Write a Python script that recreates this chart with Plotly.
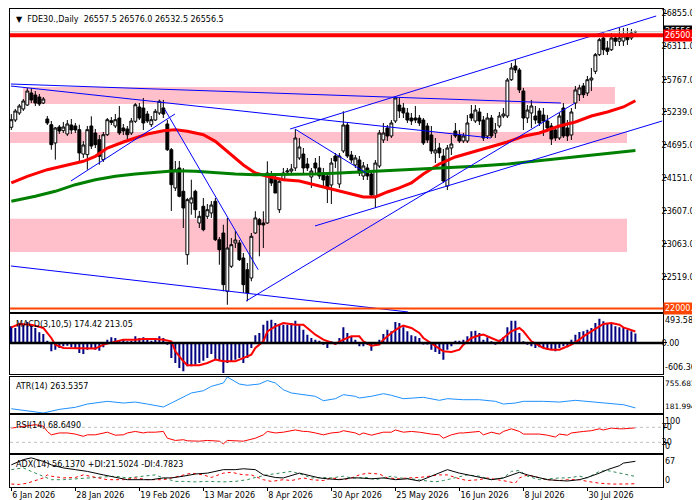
import plotly.graph_objects as go

FONT = "DejaVu Sans"

# ---- price data (daily candles, bar index 0..156) ----
tick_bars = [0, 16, 32, 48, 64, 80, 96, 112, 128, 144]
tick_dates = ["6 Jan 2026", "28 Jan 2026", "19 Feb 2026", "13 Mar 2026", "8 Apr 2026",
              "30 Apr 2026", "25 May 2026", "16 Jun 2026", "8 Jul 2026", "30 Jul 2026"]

opens = [24983, 25103, 25219, 25285, 25350, 25548, 25515, 25482, 25383, 25120,
         25026, 24725, 24988, 24927, 24873, 25021, 25005, 24944, 24543, 24532,
         25005, 24889, 24779, 24450, 24861, 25092, 25005, 25136, 24972, 24955,
         24889, 25082, 25317, 25301, 25202, 25026, 25103, 25219, 25301, 25038,
         24614, 23984, 24313, 23929, 22885, 23736, 23929, 23407, 23682, 23517,
         23572, 23764, 23132, 23242, 22282, 22694, 23078, 23078, 22831, 22638,
         22501, 23242, 23461, 23407, 23407, 24176, 24120, 23626, 24120, 24247,
         24263, 24313, 24478, 24543, 24379, 24165, 24395, 24313, 24230, 24181,
         24033, 24510, 24049, 24593, 25021, 24527, 24362, 24445, 24181, 24313,
         24214, 23835, 24346, 24774, 24972, 24840, 25087, 25350, 25301, 25219,
         25136, 25136, 25136, 25103, 25005, 24856, 24560, 24642, 24510, 24016,
         24642, 24922, 24856, 24758, 24758, 25202, 25087, 25235, 25103, 24840,
         25136, 24889, 25005, 25169, 25169, 25767, 25993, 25927, 25581, 25136,
         25219, 25169, 25252, 25186, 25087, 25005, 24939, 24807, 25301, 24972,
         24856, 25383, 25520, 25664, 25548, 25762, 25905, 26179, 26454, 26289,
         26261, 26454, 26400, 26404, 26503, 26454, 26557.5]
highs = [25202, 25285, 25367, 25449, 25630, 25630, 25581, 25532, 25482, 25169,
         25087, 24988, 25021, 25070, 25103, 25120, 25054, 25026, 24758, 25005,
         25164, 24955, 24856, 24906, 25136, 25153, 25202, 25334, 25038, 25005,
         25136, 25383, 25383, 25466, 25252, 25169, 25285, 25438, 25433, 25103,
         24642, 24428, 24428, 24313, 23819, 24120, 23955, 23605, 23819, 23720,
         23769, 23819, 23176, 23379, 23490, 23160, 23275, 23127, 22913, 22748,
         23242, 23600, 23490, 23600, 24423, 24263, 24181, 24148, 24313, 24313,
         24379, 24955, 24807, 24642, 24478, 24313, 24478, 24510, 24313, 24230,
         24478, 24560, 24560, 25247, 25070, 24593, 24527, 24510, 24412, 24379,
         24280, 24445, 24939, 25054, 25021, 25103, 25499, 25466, 25383, 25301,
         25219, 25334, 25186, 25136, 25054, 25005, 24807, 24725, 24626, 24692,
         24856, 25054, 24939, 24889, 25186, 25350, 25350, 25301, 25169, 25219,
         25186, 25054, 25235, 25301, 25795, 26042, 26092, 25960, 25631, 25350,
         25433, 25334, 25301, 25301, 25186, 25054, 25005, 25219, 25383, 25103,
         25301, 25664, 25685, 25713, 25828, 25960, 26207, 26454, 26536, 26404,
         26536, 26520, 26619, 26619, 26619, 26602, 26576]
lows = [24939, 25070, 25186, 25252, 25334, 25383, 25334, 25334, 25367, 25021,
        24614, 24450, 24873, 24889, 24840, 24873, 24889, 24395, 24478, 24285,
        24626, 24642, 24367, 24412, 24840, 25021, 24972, 24856, 24856, 24790,
        24856, 25054, 25103, 24939, 25054, 24988, 25087, 25186, 25136, 24593,
        23605, 23934, 23830, 23325, 22720, 23544, 23490, 23325, 23270, 23473,
        23490, 23110, 22720, 22282, 22061, 22666, 22995, 22781, 22254, 22117,
        22447, 23226, 22858, 22995, 23390, 24016, 23901, 23572, 24099, 24198,
        24230, 24263, 24445, 24214, 24263, 23984, 24230, 24132, 23984, 23736,
        23720, 24313, 23984, 24560, 24478, 24395, 24313, 24181, 24115, 24115,
        23819, 23654, 24313, 24725, 24758, 24807, 25054, 25136, 25136, 25054,
        25021, 25054, 25005, 24692, 24725, 24543, 24395, 24478, 24066, 23950,
        24527, 24807, 24725, 24725, 24725, 25087, 25054, 25021, 24758, 24790,
        24807, 24807, 24972, 25136, 25136, 25746, 25877, 25548, 24939, 25054,
        24972, 25038, 25005, 24840, 24906, 24692, 24758, 24774, 24807, 24758,
        24774, 25285, 25416, 25466, 25499, 25581, 25861, 26157, 26174, 26174,
        26240, 26322, 26322, 26322, 26339, 26421, 26532.5]
closes = [25108, 25252, 25334, 25416, 25581, 25433, 25383, 25367, 25449, 25054,
          24697, 24972, 24922, 24988, 25038, 24939, 24939, 24560, 24692, 24944,
          24675, 24697, 24505, 24861, 25108, 25065, 25108, 24889, 24922, 24861,
          25087, 25355, 25136, 25054, 25087, 25108, 25247, 25411, 25202, 24614,
          24038, 24285, 23847, 23654, 23791, 23819, 23626, 23517, 23297, 23626,
          23703, 23132, 22967, 22391, 22995, 23050, 23127, 22803, 22391, 22254,
          23188, 23490, 23379, 23374, 24230, 24066, 23901, 24094, 24230, 24263,
          24296, 24807, 24659, 24313, 24313, 24263, 24313, 24181, 24115, 23967,
          24395, 24428, 24510, 25021, 24510, 24445, 24478, 24230, 24346, 24181,
          23868, 24395, 24889, 24889, 24840, 25054, 25466, 25252, 25219, 25103,
          25087, 25103, 25054, 24725, 24774, 24593, 24609, 24560, 24099, 24642,
          24708, 24840, 24758, 24840, 25054, 25136, 25268, 25087, 24807, 25136,
          24840, 24939, 25169, 25202, 25762, 25960, 25927, 25598, 25136, 25268,
          25334, 25103, 25054, 25087, 24972, 24790, 24807, 25169, 24840, 24840,
          25235, 25598, 25631, 25520, 25767, 25795, 26179, 26426, 26261, 26235,
          26454, 26400, 26454, 26487, 26426, 26536, 26556.5]

ma_fast_x = [0, 4, 9, 14, 18, 21, 24, 28, 31, 34, 38, 41, 44, 48, 51, 54, 58, 61, 64, 68,
             72, 76, 80, 84, 88, 91, 94, 97, 100, 103, 107, 111, 116, 120, 124, 128, 132,
             137, 141, 145, 149, 153, 156]
ma_fast = [24066, 24176, 24285, 24367, 24423, 24505, 24642, 24741, 24807, 24873, 24927,
           24944, 24917, 24861, 24752, 24588, 24362, 24230, 24176, 24120, 24099, 24033,
           23967, 23901, 23835, 23835, 23918, 23984, 24066, 24214, 24379, 24494, 24593,
           24670, 24741, 24835, 24889, 25005, 25070, 25169, 25235, 25318, 25421]
ma_slow_x = [0, 6, 11, 16, 21, 26, 31, 36, 41, 46, 51, 56, 61, 66, 71, 76, 82, 91, 99, 108,
             116, 124, 132, 141, 149, 156]
ma_slow = [23764, 23847, 23929, 24038, 24120, 24176, 24214, 24247, 24268, 24258, 24230,
           24214, 24203, 24203, 24214, 24214, 24230, 24258, 24285, 24313, 24340, 24379,
           24433, 24489, 24543, 24600]

# support / resistance zones: start bar, end bar, low, high
zone_x0 = [2.9, -0.5, -0.5]
zone_x1 = [150.9, 153.9, 153.9]
zone_lo = [25367, 24725, 22929]
zone_hi = [25647, 24906, 23478]

# hand drawn trend lines (bar, price) -> (bar, price)
trend_x0 = [-0.1, -0.1, 14.9, 38.4, -0.1, 58.7, 69.7, 70.9, 75.9]
trend_y0 = [25696, 25663, 24099, 25273, 22699, 22122, 24955, 24955, 23358]
trend_x1 = [137.4, 119.9, 40.9, 61.7, 99.2, 140.9, 161.2, 88.7, 162.7]
trend_y1 = [25383, 24807, 25202, 22638, 21941, 25383, 26816, 24230, 25087]

level_red = 26500.0
level_orange = 22000.0
last_price = 26556.5

# ---- indicators ----
macd_main = [310, 279, 360, 341, 391, 341, 279, 198, 167, 43,
             -155, -124, -93, -62, -50, -81, -93, -186, -205, -124,
             -105, -124, -143, -81, 62, 105, 93, 43, 62, 31,
             43, 124, 93, 105, 62, 43, 81, 124, 93, -31,
             -279, -372, -465, -527, -434, -434, -403, -372, -329, -279,
             -205, -310, -341, -558, -372, -341, -310, -279, -372, -279,
             -93, 143, 186, 341, 415, 434, 372, 341, 341, 341,
             372, 415, 341, 248, 155, 93, 62, 43, -31, -93,
             31, -19, 93, 291, 186, 124, 62, -62, -62, -31,
             -143, -31, 62, 167, 248, 217, 391, 372, 291, 217,
             143, 124, 93, -19, -25, -124, -167, -205, -310, -124,
             -62, 43, 43, 62, 124, 217, 229, 186, 62, 105,
             31, -31, 62, 105, 291, 415, 415, 186, 31, -31,
             -62, -93, -81, -93, -124, -124, -155, -93, -62, -81,
             62, 155, 205, 217, 248, 279, 372, 453, 403, 372,
             353, 310, 291, 279, 248, 217, 174.42]
sig_x = [0, 2, 5, 8, 10, 11, 13, 16, 18, 21, 23, 26, 28, 31, 33, 36, 38, 40, 41, 43,
         44, 47, 49, 51, 53, 56, 58, 60, 61, 63, 64, 66, 68, 71, 73, 74, 76, 78, 79, 81,
         83, 85, 87, 88, 90, 92, 93, 95, 97, 98, 100, 102, 103, 105, 107, 108, 110, 112,
         113, 115, 117, 118, 120, 122, 123, 125, 127, 128, 130, 132, 133, 135, 137, 138,
         140, 142, 143, 145, 147, 148, 150, 152, 153, 155, 156]
sig_v = [291, 353, 341, 279, 93, -31, -93, -93, -105, -105, -31, 31, 62, 62, 74, 74, 62,
         31, -155, -341, -415, -415, -372, -310, -341, -341, -279, -217, -93, 31, 217, 310,
         372, 341, 341, 279, 155, 62, 31, -19, 62, 124, 124, 31, -50, -31, 62, 186, 291,
         322, 279, 186, 93, 0, -93, -155, -167, -124, -31, 93, 143, 155, 93, 31, 93, 217,
         279, 217, 31, -62, -93, -124, -124, -93, -31, 62, 124, 217, 310, 353, 372, 341,
         291, 248, 213.05]

atr_x = [0, 4, 8, 12, 16, 19, 22, 24, 28, 31, 34, 38, 40, 43, 45, 48, 50, 53, 54, 57, 59,
         62, 64, 66, 68, 70, 73, 76, 78, 81, 83, 86, 87, 90, 93, 95, 98, 103, 107, 109,
         113, 117, 121, 123, 126, 128, 133, 137, 141, 145, 149, 153, 156]
atr_v = [250, 215, 182, 240, 273, 325, 357, 368, 341, 357, 325, 278, 341, 432, 501, 537,
         607, 660, 755.68, 644, 623, 644, 700, 660, 553, 501, 474, 448, 378, 410, 474, 448,
         421, 448, 490, 464, 410, 432, 384, 410, 394, 394, 368, 325, 341, 368, 368, 357,
         384, 357, 341, 314, 263.54]

rsi_x = [0, 3, 6, 8, 9, 10, 12, 14, 16, 18, 19, 21, 23, 24, 26, 28, 29, 31, 33, 34, 36,
         38, 39, 41, 43, 44, 47, 49, 52, 53, 54, 57, 58, 61, 63, 64, 66, 68, 71, 73, 74,
         76, 78, 80, 82, 83, 86, 87, 88, 90, 92, 93, 95, 96, 98, 100, 102, 103, 105, 107,
         108, 110, 112, 113, 115, 117, 118, 120, 122, 123, 125, 127, 128, 132, 134, 136,
         137, 139, 140, 142, 143, 145, 147, 148, 150, 152, 153, 156]
rsi_v = [68, 73, 77, 73, 59, 50, 55, 55, 52, 46, 50, 50, 55, 57, 49, 50, 55, 59, 55, 57,
         57, 59, 41, 35, 37, 34, 33, 35, 33, 26, 35, 35, 33, 41, 50, 59, 55, 57, 63, 59,
         59, 55, 50, 55, 57, 61, 55, 50, 55, 49, 55, 57, 57, 63, 57, 59, 57, 55, 52, 50,
         41, 50, 55, 55, 57, 59, 50, 57, 52, 59, 66, 59, 52, 52, 49, 44, 52, 49, 55, 59,
         59, 61, 66, 63, 68, 66, 66, 68.649]

adx_x = [0, 3, 5, 8, 10, 13, 16, 19, 23, 26, 29, 33, 35, 38, 40, 43, 46, 49, 53, 56, 58,
         61, 63, 66, 68, 72, 74, 77, 79, 82, 85, 87, 90, 93, 96, 99, 102, 104, 107, 109,
         112, 114, 118, 120, 123, 125, 127, 129, 132, 134, 137, 139, 142, 144, 147, 149,
         152, 153, 156]
adx_v = [48, 60, 64, 56, 48, 41, 37, 33, 25, 19, 14, 14, 14, 18, 18, 22, 27, 29, 37, 37,
         39, 37, 25, 19, 18, 29, 25, 18, 16, 14, 18, 18, 16, 18, 14, 16, 11, 18, 29, 37,
         29, 25, 18, 14, 18, 25, 31, 25, 18, 14, 12, 11, 14, 19, 29, 37, 46, 52, 56.137]
pdi_x = [0, 3, 5, 8, 10, 13, 16, 19, 23, 26, 29, 33, 36, 38, 41, 43, 46, 49, 53, 56, 59,
         61, 64, 67, 70, 73, 75, 78, 80, 83, 85, 87, 89, 91, 95, 97, 100, 103, 106, 108,
         111, 114, 117, 120, 123, 125, 127, 129, 132, 134, 137, 139, 142, 144, 147, 149,
         152, 154, 156]
pdi_v = [37, 41, 33, 22, 14, 14, 16, 18, 19, 22, 18, 22, 25, 18, 10, 10, 9, 10, 9, 10,
         14, 19, 25, 29, 33, 25, 18, 19, 18, 22, 18, 18, 19, 14, 22, 18, 16, 12, 9, 12,
         18, 25, 22, 14, 18, 33, 35, 22, 14, 16, 18, 18, 22, 18, 33, 35, 29, 25, 21.5024]
mdi_x = [0, 2, 4, 8, 9, 10, 13, 16, 18, 21, 24, 28, 31, 34, 38, 40, 43, 45, 48, 50, 53,
         55, 58, 60, 63, 65, 68, 70, 73, 75, 78, 80, 83, 85, 87, 89, 92, 94, 97, 99, 102,
         104, 107, 109, 112, 114, 117, 119, 122, 124, 126, 127, 129, 132, 134, 137, 139,
         142, 144, 147, 150, 153, 156]
mdi_v = [4, 3, 6, 18, 25, 22, 18, 19, 25, 19, 14, 14, 18, 14, 14, 18, 25, 29, 25, 19, 29,
         31, 25, 25, 14, 10, 14, 12, 18, 14, 12, 18, 14, 18, 25, 29, 27, 18, 16, 18, 19,
         22, 25, 25, 16, 12, 14, 18, 14, 10, 6, 18, 25, 18, 14, 12, 14, 14, 10, 6, 4, 4,
         4.7823]

price_ticks = [26855, 26311, 25767, 25239, 24695, 24151, 23607, 23063, 22519]

bars = list(range(len(closes)))

fig = go.Figure()

# main window
fig.add_trace(go.Candlestick(
    x=bars, open=opens, high=highs, low=lows, close=closes,
    increasing=dict(line=dict(color="black", width=1), fillcolor="white"),
    decreasing=dict(line=dict(color="black", width=1), fillcolor="black"),
    whiskerwidth=0, hoverinfo="skip", showlegend=False))
fig.add_trace(go.Scatter(x=ma_fast_x, y=ma_fast, mode="lines",
                         line=dict(color="#FF0000", width=3), hoverinfo="skip", showlegend=False))
fig.add_trace(go.Scatter(x=ma_slow_x, y=ma_slow, mode="lines",
                         line=dict(color="#008000", width=3), hoverinfo="skip", showlegend=False))

# MACD
fig.add_trace(go.Bar(x=bars, y=macd_main, width=0.5, marker=dict(color="#000080", line=dict(width=0)),
                     xaxis="x2", yaxis="y2", hoverinfo="skip", showlegend=False))
fig.add_trace(go.Scatter(x=sig_x, y=sig_v, mode="lines", line=dict(color="#FF0000", width=2),
                         xaxis="x2", yaxis="y2", hoverinfo="skip", showlegend=False))
# ATR
fig.add_trace(go.Scatter(x=atr_x, y=atr_v, mode="lines", line=dict(color="#1E90FF", width=1),
                         xaxis="x3", yaxis="y3", hoverinfo="skip", showlegend=False))
# RSI
fig.add_trace(go.Scatter(x=rsi_x, y=rsi_v, mode="lines", line=dict(color="#FF0000", width=1),
                         xaxis="x4", yaxis="y4", hoverinfo="skip", showlegend=False))
# ADX
fig.add_trace(go.Scatter(x=pdi_x, y=pdi_v, mode="lines", line=dict(color="#2E8B57", width=1, dash="3px,3px"),
                         xaxis="x5", yaxis="y5", hoverinfo="skip", showlegend=False))
fig.add_trace(go.Scatter(x=mdi_x, y=mdi_v, mode="lines", line=dict(color="#FF0000", width=1, dash="3px,3px"),
                         xaxis="x5", yaxis="y5", hoverinfo="skip", showlegend=False))
fig.add_trace(go.Scatter(x=adx_x, y=adx_v, mode="lines", line=dict(color="black", width=1),
                         xaxis="x5", yaxis="y5", hoverinfo="skip", showlegend=False))

shapes = []
for x0, x1, lo, hi in zip(zone_x0, zone_x1, zone_lo, zone_hi):
    shapes.append(dict(type="rect", xref="x", yref="y", x0=x0, x1=x1, y0=lo, y1=hi,
                       fillcolor="#FFC0CB", line=dict(width=0), layer="below"))
for x0, y0, x1, y1 in zip(trend_x0, trend_y0, trend_x1, trend_y1):
    shapes.append(dict(type="line", xref="x", yref="y", x0=x0, y0=y0, x1=x1, y1=y1,
                       line=dict(color="#0000FF", width=1)))
shapes.append(dict(type="line", xref="paper", yref="y", x0=0, x1=1, y0=last_price, y1=last_price,
                   line=dict(color="#C0C0C0", width=1)))
shapes.append(dict(type="line", xref="paper", yref="y", x0=0, x1=1, y0=level_red, y1=level_red,
                   line=dict(color="#FF0000", width=4)))
shapes.append(dict(type="line", xref="paper", yref="y", x0=0, x1=1, y0=level_orange, y1=level_orange,
                   line=dict(color="#FF4500", width=2)))
shapes.append(dict(type="line", xref="paper", yref="y2", x0=0, x1=1, y0=0, y1=0,
                   line=dict(color="black", width=2.5)))
for lv in (70, 30):
    shapes.append(dict(type="line", xref="paper", yref="y4", x0=0, x1=1, y0=lv, y1=lv,
                       line=dict(color="#C0C0C0", width=1, dash="3px,3px")))

tf = dict(family=FONT, size=8, color="black")
frame = dict(showline=True, linecolor="black", linewidth=1, mirror=True,
             showgrid=False, zeroline=False, fixedrange=True)
xbase = dict(frame, range=[-0.33, 162.9], showticklabels=False, ticks="")
ybase = dict(frame, side="right", ticks="outside", ticklen=3, tickcolor="black", tickfont=tf,
             ticklabelstandoff=-7)

ann = []
def side_label(text, yref, y, anchor, bg=None, fg="black", size=8):
    d = dict(text=text, xref="paper", x=1, xanchor="left", xshift=0, yref=yref, y=y,
             yanchor=anchor, showarrow=False, font=dict(family=FONT, size=size, color=fg),
             borderpad=1)
    if bg:
        d.update(bgcolor=bg, width=37, height=9, align="left", valign="middle")
    ann.append(d)

side_label(f"{last_price:.1f}", "y", last_price, "middle", bg="black", fg="white")
side_label(f"{level_red:.1f}", "y", level_red, "middle", bg="#FF0000", fg="white")
side_label(f"{level_orange:.1f}", "y", level_orange, "middle", bg="#FF4500", fg="white")
side_label("493.58", "y2 domain", 1, "top")
side_label("-606.36", "y2 domain", 0, "bottom")
side_label("755.6839", "y3 domain", 1, "top", size=7.4)
side_label("181.9946", "y3 domain", 0, "bottom", size=7.4)
side_label("100", "y4 domain", 1, "top")
side_label("0", "y4 domain", 0, "bottom")
side_label("67", "y5 domain", 1, "top")
side_label("0", "y5 domain", 0, "bottom")

def panel_label(text, yref, shift):
    ann.append(dict(text=text, xref="paper", x=0, xanchor="left", xshift=4, yref=yref, y=1,
                    yanchor="top", yshift=shift, showarrow=False, font=tf))

panel_label("\u25bc  FDE30.,Daily  26557.5 26576.0 26532.5 26556.5", "y domain", -4)
panel_label("MACD(3,10,5) 174.42 213.05", "y2 domain", -4)
panel_label("ATR(14) 263.5357", "y3 domain", -3)
panel_label("RSI(14) 68.6490", "y4 domain", -4)
panel_label("ADX(14) 56.1370 +DI:21.5024 -DI:4.7823", "y5 domain", -3)

fig.update_layout(
    width=700, height=500,
    margin=dict(l=2, r=45, t=1, b=21),
    paper_bgcolor="white", plot_bgcolor="white",
    boxgap=0.2, boxgroupgap=0.1,
    showlegend=False,
    xaxis=dict(xbase, anchor="y", rangeslider=dict(visible=False)),
    xaxis2=dict(xbase, anchor="y2", matches="x"),
    xaxis3=dict(xbase, anchor="y3", matches="x"),
    xaxis4=dict(xbase, anchor="y4", matches="x"),
    xaxis5=dict(xbase, anchor="y5", matches="x", showticklabels=True, ticks="outside",
                ticklen=3, tickcolor="black", tickvals=tick_bars, ticktext=tick_dates,
                ticklabelposition="outside right", tickfont=tf),
    yaxis=dict(ybase, anchor="x", domain=[0.3651, 1.0], range=[21933, 26931.5],
               tickvals=price_ticks, ticktext=[f"{v:.1f}" for v in price_ticks]),
    yaxis2=dict(ybase, anchor="x2", domain=[0.2354, 0.3609], range=[-586, 530],
                tickvals=[0], ticktext=["0.00"]),
    yaxis3=dict(ybase, anchor="x3", domain=[0.1548, 0.2301], range=[182, 755.8],
                tickvals=[]),
    yaxis4=dict(ybase, anchor="x4", domain=[0.0711, 0.1506], range=[1.5, 102.8],
                tickvals=[70, 30], ticktext=["70", "30"]),
    yaxis5=dict(ybase, anchor="x5", domain=[0.0, 0.0663], range=[-2.8, 69.9],
                tickvals=[]),
    shapes=shapes,
    annotations=ann,
)

fig.write_html("out.html", config={"displayModeBar": False})
